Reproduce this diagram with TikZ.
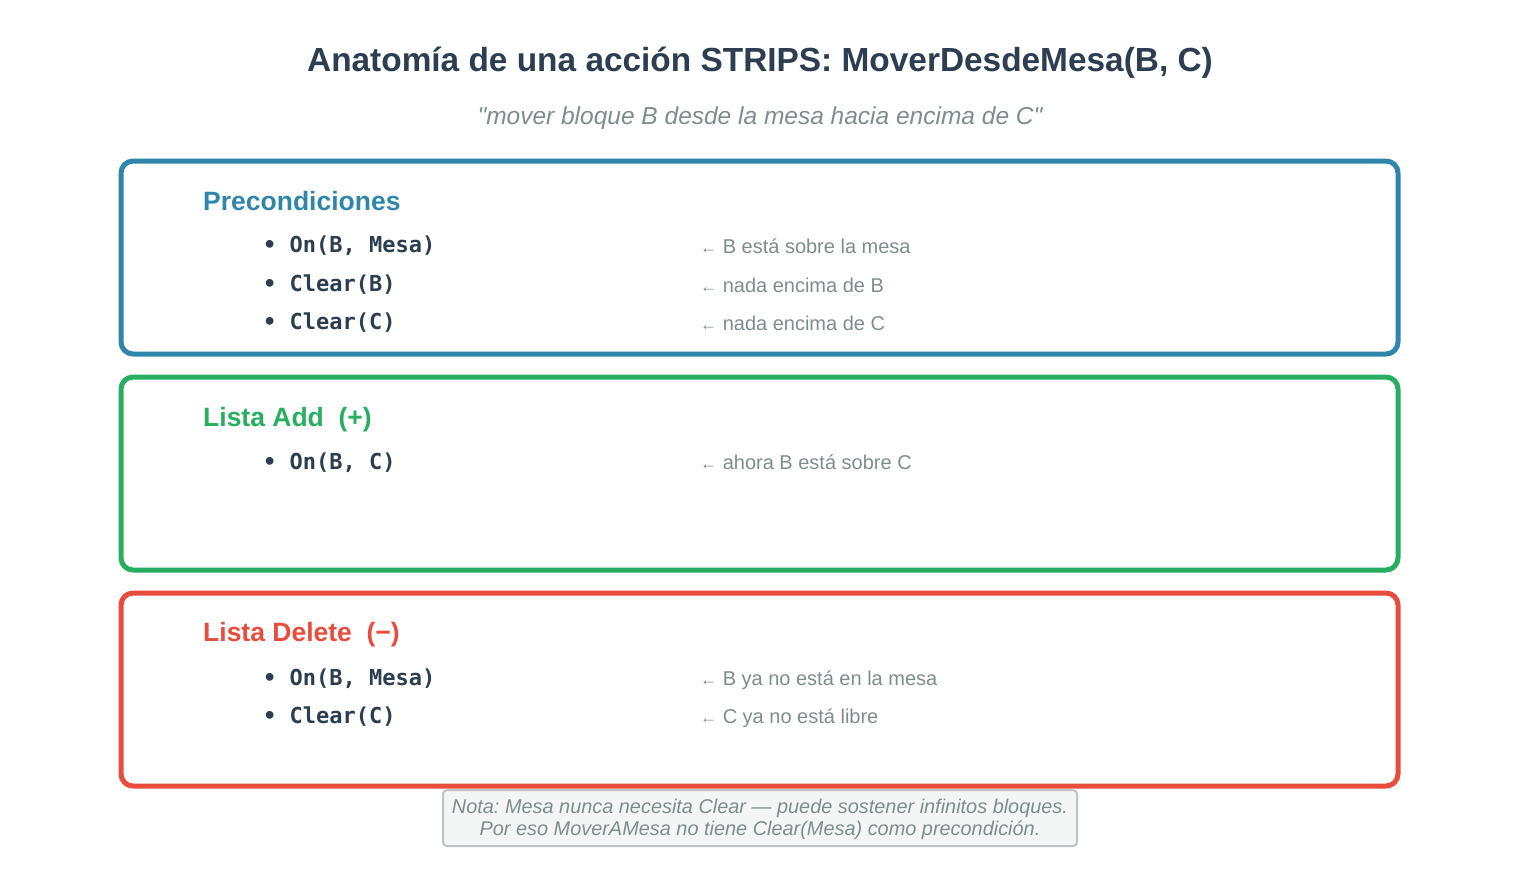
\documentclass[tikz,border=0pt]{standalone}
\usepackage{fontspec}
\setmainfont{Liberation Sans}
\setmonofont{DejaVu Sans Mono}
\usetikzlibrary{positioning}
\frenchspacing

\definecolor{ink}{HTML}{2C3E50}
\definecolor{mute}{HTML}{7F8C8D}
\definecolor{preblue}{HTML}{2E86AB}
\definecolor{addgreen}{HTML}{27AE60}
\definecolor{delred}{HTML}{E74C3C}
\definecolor{notefill}{HTML}{F4F6F6}
\definecolor{noteline}{HTML}{BDC3C7}

\newcommand{\fs}[1]{\fontsize{#1}{#1}\selectfont}
\newcommand{\larr}{{\fs{17}←}\ }

\begin{document}
\begin{tikzpicture}[x=1pt,y=-1pt,inner sep=0pt,
  panel/.style={rounded corners=12pt,line width=5pt},
  head/.style={anchor=base west,font=\fs{26.5}\bfseries},
  item/.style={anchor=base west,text=ink,font=\fs{22}\ttfamily\bfseries},
  why/.style={anchor=base west,text=mute,font=\fs{20}}]
  \useasboundingbox (0,0) rectangle (1520,894);

  \node[anchor=base,text=ink,font=\fs{33.4}\bfseries] (title) at (760,71)
    {Anatomía de una acción STRIPS: MoverDesdeMesa(B, C)};
  \node[anchor=base,text=mute,font=\fs{24.5}\itshape] (sub) at (760,124)
    {\textquotedbl mover bloque B desde la mesa hacia encima de C\textquotedbl};

  \draw[panel,preblue] (121,161) rectangle (1398,354);
  \node[head,text=preblue] (pre) at (203,210) {Precondiciones};
  \node[item] (pre_1) at (263,252) {• On(B, Mesa)};
  \node[item] (pre_2) at (263,291) {• Clear(B)};
  \node[item] (pre_3) at (263,329) {• Clear(C)};
  \node[why] (why_1) at (700,253) {\larr B está sobre la mesa};
  \node[why] (why_2) at (700,292) {\larr nada encima de B};
  \node[why] (why_3) at (700,330) {\larr nada encima de C};

  \draw[panel,addgreen] (121,377) rectangle (1398,570);
  \node[head,text=addgreen] (add) at (203,426) {Lista Add\ \ (+)};
  \node[item] (add_1) at (263,469) {• On(B, C)};
  \node[why] (why_4) at (700,469) {\larr ahora B está sobre C};

  \draw[panel,delred] (121,593) rectangle (1398,786);
  \node[head,text=delred] (del) at (203,641) {Lista Delete\ \ (−)};
  \node[item] (del_1) at (263,685) {• On(B, Mesa)};
  \node[item] (del_2) at (263,723) {• Clear(C)};
  \node[why] (why_5) at (700,685) {\larr B ya no está en la mesa};
  \node[why] (why_6) at (700,723) {\larr C ya no está libre};

  \draw[rounded corners=4pt,line width=2pt,draw=noteline,fill=notefill]
    (443,790) rectangle (1077,846);
  \node[anchor=base,text=mute,font=\fs{19.9}\itshape] (note_1) at (760,813)
    {Nota: Mesa nunca necesita Clear — puede sostener infinitos bloques.};
  \node[anchor=base,text=mute,font=\fs{19.9}\itshape] (note_2) at (760,835)
    {Por eso MoverAMesa no tiene Clear(Mesa) como precondición.};
\end{tikzpicture}
\end{document}
